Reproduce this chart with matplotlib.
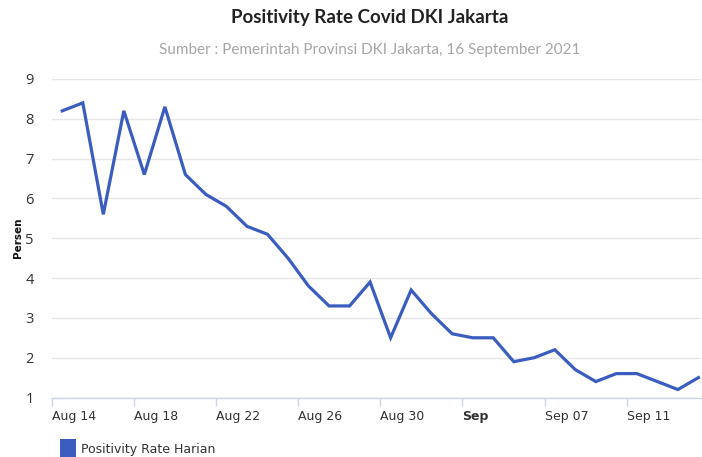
import matplotlib
matplotlib.use('Agg')
import matplotlib.pyplot as plt
import matplotlib.dates as mdates
import matplotlib.transforms as mtrans
from matplotlib.patches import Rectangle
import pandas as pd

# Daily positivity rate, 14 Aug - 14 Sep 2021
dates = pd.date_range('2021-08-14', '2021-09-14', freq='D')
rate = [8.2, 8.4, 5.6, 8.2, 6.6, 8.3, 6.6, 6.1, 5.8, 5.3, 5.1, 4.5, 3.8, 3.3, 3.3, 3.9,
        2.5, 3.7, 3.1, 2.6, 2.5, 2.5, 1.9, 2.0, 2.2, 1.7, 1.4, 1.6, 1.6, 1.4, 1.2, 1.5]
tick_dates = pd.date_range('2021-08-14', '2021-09-11', freq='4D')
tick_labels = ['Aug 14', 'Aug 18', 'Aug 22', 'Aug 26', 'Aug 30', 'Sep', 'Sep 07', 'Sep 11']
yticks = [1, 2, 3, 4, 5, 6, 7, 8, 9]

title = 'Positivity Rate Covid DKI Jakarta'
subtitle = 'Sumber : Pemerintah Provinsi DKI Jakarta, 16 September 2021'
series_name = 'Positivity Rate Harian'
line_color = '#3a5dbf'

W, H = 702, 457
fig = plt.figure(figsize=(W/100, H/100), dpi=100)
fig.patch.set_facecolor('white')
ax = fig.add_axes([52/W, 1 - 397.5/H, (701 - 52)/W, (397.5 - 79)/H])

# points sit mid-day between the midnight ticks
xs = dates + pd.Timedelta(hours=12)
ax.plot(xs, rate, color=line_color, lw=2.3, solid_joinstyle='miter', clip_on=False, zorder=3)

ax.set_xlim(dates[0], dates[-1] + pd.Timedelta(hours=15))
ax.set_ylim(1, 9)
ax.set_yticks(yticks)
ax.set_yticklabels([str(v) for v in yticks], fontsize=10.5, family='Open Sans', color='#333333')
ax.yaxis.grid(True, color='#e6e6e6', lw=1)
ax.set_axisbelow(True)
ax.tick_params(axis='y', length=0, pad=13)

# x labels sit just right of their tick marks; month start in bold
ax.set_xticks(mdates.date2num(tick_dates))
ax.set_xticklabels(tick_labels, fontsize=9, family='DejaVu Sans', color='#333333', ha='left')
offset = mtrans.ScaledTranslation(3/100, 0, fig.dpi_scale_trans)
for lab in ax.get_xticklabels():
    lab.set_transform(lab.get_transform() + offset)
    if lab.get_text() == 'Sep':
        lab.set_fontweight('bold')
ax.tick_params(axis='x', length=6, color='#ccd6eb', width=1, pad=3)

for side in ['top', 'right', 'left']:
    ax.spines[side].set_visible(False)
ax.spines['bottom'].set_color('#ccd6eb')
ax.spines['bottom'].set_linewidth(1)

ax.set_ylabel('Persen', fontsize=7.5, fontweight='bold', family='DejaVu Sans', color='#111111', labelpad=2)

cx = 370 / W
fig.text(cx, 1 - 18/H, title, ha='center', va='center', fontsize=13.5, fontweight='bold',
         family='Lato', color='#222222')
fig.text(cx, 1 - 50/H, subtitle, ha='center', va='center', fontsize=11,
         family='Lato', color='#a6a6a6')

# legend
fig.patches.append(Rectangle((60/W, 0), 16/W, 18/H, transform=fig.transFigure,
                             facecolor=line_color, edgecolor='none'))
fig.text(81/W, 1 - 449/H, series_name, ha='left', va='center', fontsize=9,
         family='DejaVu Sans', color='#333333')

fig.savefig('out.png', dpi=100)
